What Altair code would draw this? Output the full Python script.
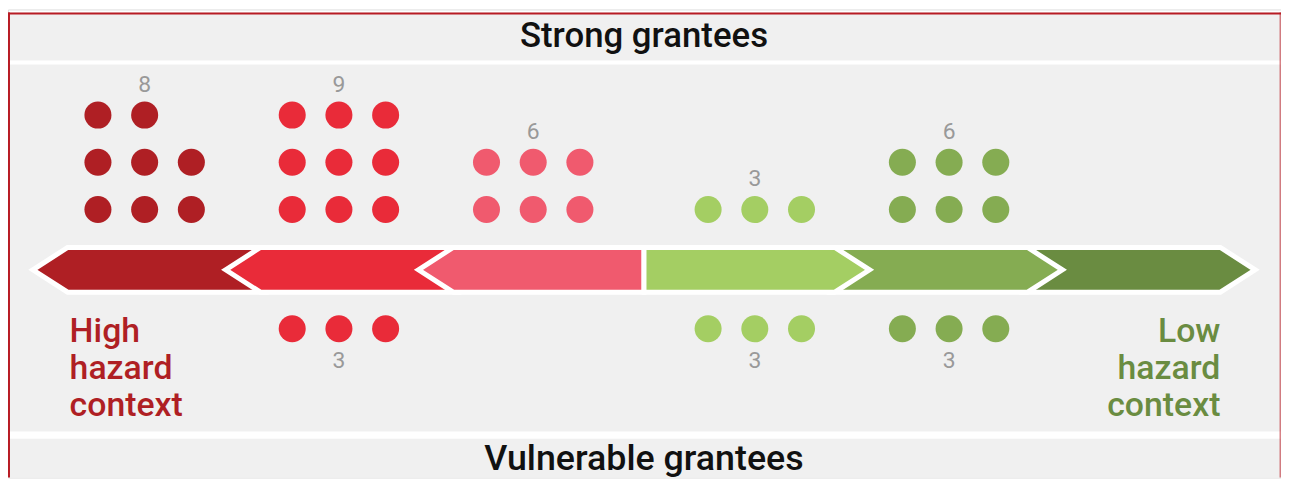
import altair as alt
import pandas as pd

# ---------------- data ----------------
levels = ["Very high hazard", "High hazard", "Moderately high hazard",
          "Moderately low hazard", "Low hazard", "Very low hazard"]
strong_counts = [8, 9, 6, 3, 6, 0]
vulnerable_counts = [0, 3, 0, 3, 3, 0]
header_text = "Strong grantees"
footer_text = "Vulnerable grantees"
left_label = ["High", "hazard", "context"]
right_label = ["Low", "hazard", "context"]

palette = ["#AF1F24", "#E92B39", "#F05A6E", "#A4CE63", "#85AC52", "#6A8C41"]

# ---------------- layout constants ----------------
W, H = 1281, 471
CX = 640.0          # centre of arrow (px)
CY = 262.0          # arrow centre line
SLOT = 194.0        # segment step
TIP0 = 33.0
DEPTH = 35.0        # chevron depth
HALF = 22.5         # half height of arrow
GSTEP, GOFF = 195.5, -84.0   # dot group centre distance from CX
COL = 47.0
ROW = 47.5
ROW0_UP = 201.3
ROW0_DN = 321.3
LAB_OFF = 31.5
FONT = "Roboto"
GRAY_BG = "#F0F0F0"
BORDER = "#B81C24"

xs = alt.Scale(domain=[0, W], range=[0, W], nice=False, zero=False)
ys = alt.Scale(domain=[0, H], range=[0, H], nice=False, zero=False)


def seg(i):
    return (3 - i, -1) if i < 3 else (i - 2, 1)


tips = {k: k * SLOT + TIP0 for k in (1, 2, 3)}

area_rows = []
dot_rows = []
lab_rows = []
for i, lev in enumerate(levels):
    k, sg = seg(i)
    T = tips[k]
    inner = 0.0 if k == 1 else tips[k - 1] - DEPTH - 6
    for d, hh in [(T, 0.0), (T - DEPTH, HALF), (inner, HALF)]:
        area_rows.append(dict(level=lev, k=k, x=CX + sg * d, y=CY - hh, y2=CY + hh))
    gx = CX + sg * (k * GSTEP + GOFF)
    n = strong_counts[i]
    for j in range(n):
        r, c = divmod(j, 3)
        dot_rows.append(dict(level=lev, x=gx + (c - 1) * COL, y=ROW0_UP - r * ROW))
    if n > 0:
        nr = (n + 2) // 3
        lab_rows.append(dict(level=lev, x=gx, y=ROW0_UP - (nr - 1) * ROW - LAB_OFF + 8.3, t=str(n)))
    m = vulnerable_counts[i]
    for j in range(m):
        r, c = divmod(j, 3)
        dot_rows.append(dict(level=lev, x=gx + (c - 1) * COL, y=ROW0_DN + r * ROW))
    if m > 0:
        nr = (m + 2) // 3
        lab_rows.append(dict(level=lev, x=gx, y=ROW0_DN + (nr - 1) * ROW + LAB_OFF + 8.3, t=str(m)))

area_df = pd.DataFrame(area_rows)
dot_df = pd.DataFrame(dot_rows)
lab_df = pd.DataFrame(lab_rows)

color = alt.Color("level:N", scale=alt.Scale(domain=levels, range=palette), legend=None)
one = pd.DataFrame({"a": [0]})


def band(x0, x1, y0, y1, fill, opacity=1.0):
    return alt.Chart(one).mark_rect(fill=fill, opacity=opacity).encode(
        x=alt.value(x0), x2=alt.value(x1), y=alt.value(y0), y2=alt.value(y1))


layers = [
    band(0, W, 3, H, GRAY_BG),
    band(0, W, 51.3, 55.3, "white"),
    band(0, W, 424.7, 432, "white"),
    band(0, W, 3, 5, BORDER),
    band(0, 2, 3, H, BORDER),
    band(W - 1.5, W, 3, H, BORDER, 0.55),
]

for k in (3, 2, 1):
    for i, lev in enumerate(levels):
        if seg(i)[0] != k:
            continue
        layers.append(
            alt.Chart(area_df[area_df.level == lev]).mark_area(
                orient="vertical", stroke="white", strokeWidth=5, strokeJoin="miter",
                strokeMiterLimit=10, opacity=1, fill=palette[i]
            ).encode(
                x=alt.X("x:Q", scale=xs, axis=None, stack=None),
                y=alt.Y("y:Q", scale=ys, axis=None, stack=None),
                y2="y2:Q",
            )
        )

layers.append(
    alt.Chart(dot_df).mark_circle(size=740, opacity=1).encode(
        x=alt.X("x:Q", scale=xs, axis=None),
        y=alt.Y("y:Q", scale=ys, axis=None),
        color=color,
    )
)

layers.append(
    alt.Chart(lab_df).mark_text(font=FONT, fontSize=23, color="#999999",
                                align="center", baseline="alphabetic").encode(
        x=alt.X("x:Q", scale=xs, axis=None),
        y=alt.Y("y:Q", scale=ys, axis=None),
        text="t:N",
    )
)

layers.append(
    alt.Chart(pd.DataFrame({"t": [header_text]})).mark_text(
        font=FONT, fontSize=35, fontWeight=500, color="#111111", align="center", baseline="alphabetic"
    ).encode(x=alt.value(CX), y=alt.value(38), text="t:N")
)
layers.append(
    alt.Chart(pd.DataFrame({"t": [footer_text]})).mark_text(
        font=FONT, fontSize=36, fontWeight=500, color="#111111", align="center", baseline="alphabetic"
    ).encode(x=alt.value(CX), y=alt.value(463.7), text="t:N")
)

side_rows = []
for idx, s in enumerate(left_label):
    side_rows.append(dict(t=s, side="L", y=335 + idx * 37))
for idx, s in enumerate(right_label):
    side_rows.append(dict(t=s, side="R", y=335 + idx * 37))
side_df = pd.DataFrame(side_rows)

layers.append(
    alt.Chart(side_df[side_df.side == "L"]).mark_text(
        font=FONT, fontSize=34, fontWeight=500, color=palette[0], align="left", baseline="alphabetic"
    ).encode(x=alt.value(62), y=alt.Y("y:Q", scale=ys, axis=None), text="t:N")
)
layers.append(
    alt.Chart(side_df[side_df.side == "R"]).mark_text(
        font=FONT, fontSize=34, fontWeight=500, color=palette[5], align="right", baseline="alphabetic"
    ).encode(x=alt.value(1220), y=alt.Y("y:Q", scale=ys, axis=None), text="t:N")
)

chart = alt.layer(*layers).properties(width=W, height=H, padding=0).configure_view(
    stroke=None
).configure(background="white")

chart.save("out.html", embed_options={"renderer": "svg", "actions": False})
